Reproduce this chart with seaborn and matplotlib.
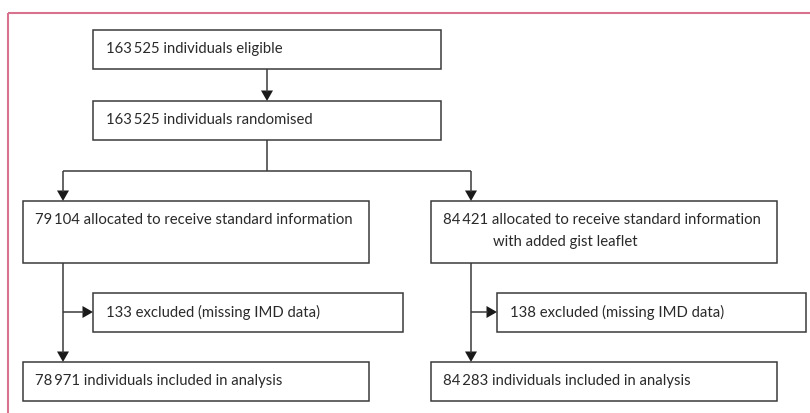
import matplotlib
matplotlib.use("Agg")
import matplotlib.pyplot as plt
from matplotlib.patches import Rectangle, Polygon
import seaborn as sns

# ---- data ----
eligible = 163525
randomised = 163525
allocated = [79104, 84421]
excluded = [133, 138]
included = [78971, 84283]
allocated_text = ["allocated to receive standard information",
                  "allocated to receive standard information"]
allocated_text2 = ["", "with added gist leaflet"]
excluded_text = "excluded (missing IMD data)"
included_text = "individuals included in analysis"


def fmt(n):
    s = f"{n:,}"
    return s.replace(",", "\u2009")


sns.set_theme(style="white")
plt.rcParams["font.family"] = ["Lato", "DejaVu Sans"]

W, H = 810, 413
fig = plt.figure(figsize=(W / 100, H / 100), dpi=100)
ax = fig.add_axes([0, 0, 1, 1])
ax.set_xlim(0, W)
ax.set_ylim(H, 0)
ax.axis("off")

EDGE = "#3a3a3a"
TXT = "#2a2a2a"
FS = 10.7
LW = 1.1


def box(x0, y0, x1, y1):
    ax.add_patch(Rectangle((x0, y0), x1 - x0, y1 - y0, fill=False,
                           edgecolor=EDGE, linewidth=LW))


def txt(x, y, s):
    ax.text(x, y, s, ha="left", va="center", fontsize=FS, color=TXT)


def line(xs, ys):
    ax.plot(xs, ys, color=EDGE, linewidth=LW, solid_capstyle="butt")


def head_down(x, ytip):
    ax.add_patch(Polygon([(x - 6, ytip - 10.5), (x + 6, ytip - 10.5), (x, ytip)],
                         closed=True, facecolor="#1a1a1a", edgecolor="none"))


def head_right(xtip, y):
    ax.add_patch(Polygon([(xtip - 10.5, y - 6), (xtip - 10.5, y + 6), (xtip, y)],
                         closed=True, facecolor="#1a1a1a", edgecolor="none"))


# pink frame (top and left)
ax.plot([8, W], [13, 13], color="#d9728f", linewidth=1.5, solid_capstyle="butt")
ax.plot([8, 8], [13, H], color="#d9728f", linewidth=1.5, solid_capstyle="butt")

# top boxes
box(93, 30, 441, 69)
txt(106, 49.5, f"{fmt(eligible)} individuals eligible")
line([267, 267], [69, 92])
head_down(267, 101)
box(93, 101, 441, 140)
txt(106, 120.5, f"{fmt(randomised)} individuals randomised")

# split
line([267, 267], [140, 171])
line([63, 471], [171, 171])
line([63, 63], [171, 192])
line([471, 471], [171, 192])
head_down(63, 201)
head_down(471, 201)

cols = [(23, 369, 63, 93, 403), (431, 777, 471, 497, 806)]
for i, (bx0, bx1, cx, ex0, ex1) in enumerate(cols):
    box(bx0, 201, bx1, 263)
    txt(bx0 + 12, 220, f"{fmt(allocated[i])} {allocated_text[i]}")
    if allocated_text2[i]:
        txt(bx0 + 62, 242, allocated_text2[i])
    line([cx, cx], [263, 353])
    head_down(cx, 362)
    line([cx, ex0 - 9], [312, 312])
    head_right(ex0, 312)
    box(ex0, 293, ex1, 332)
    txt(ex0 + 13, 312.5, f"{excluded[i]} {excluded_text}")
    box(bx0, 362, bx1, 401)
    txt(bx0 + 12, 381.5, f"{fmt(included[i])} {included_text}")

fig.savefig("out.png", dpi=100)
